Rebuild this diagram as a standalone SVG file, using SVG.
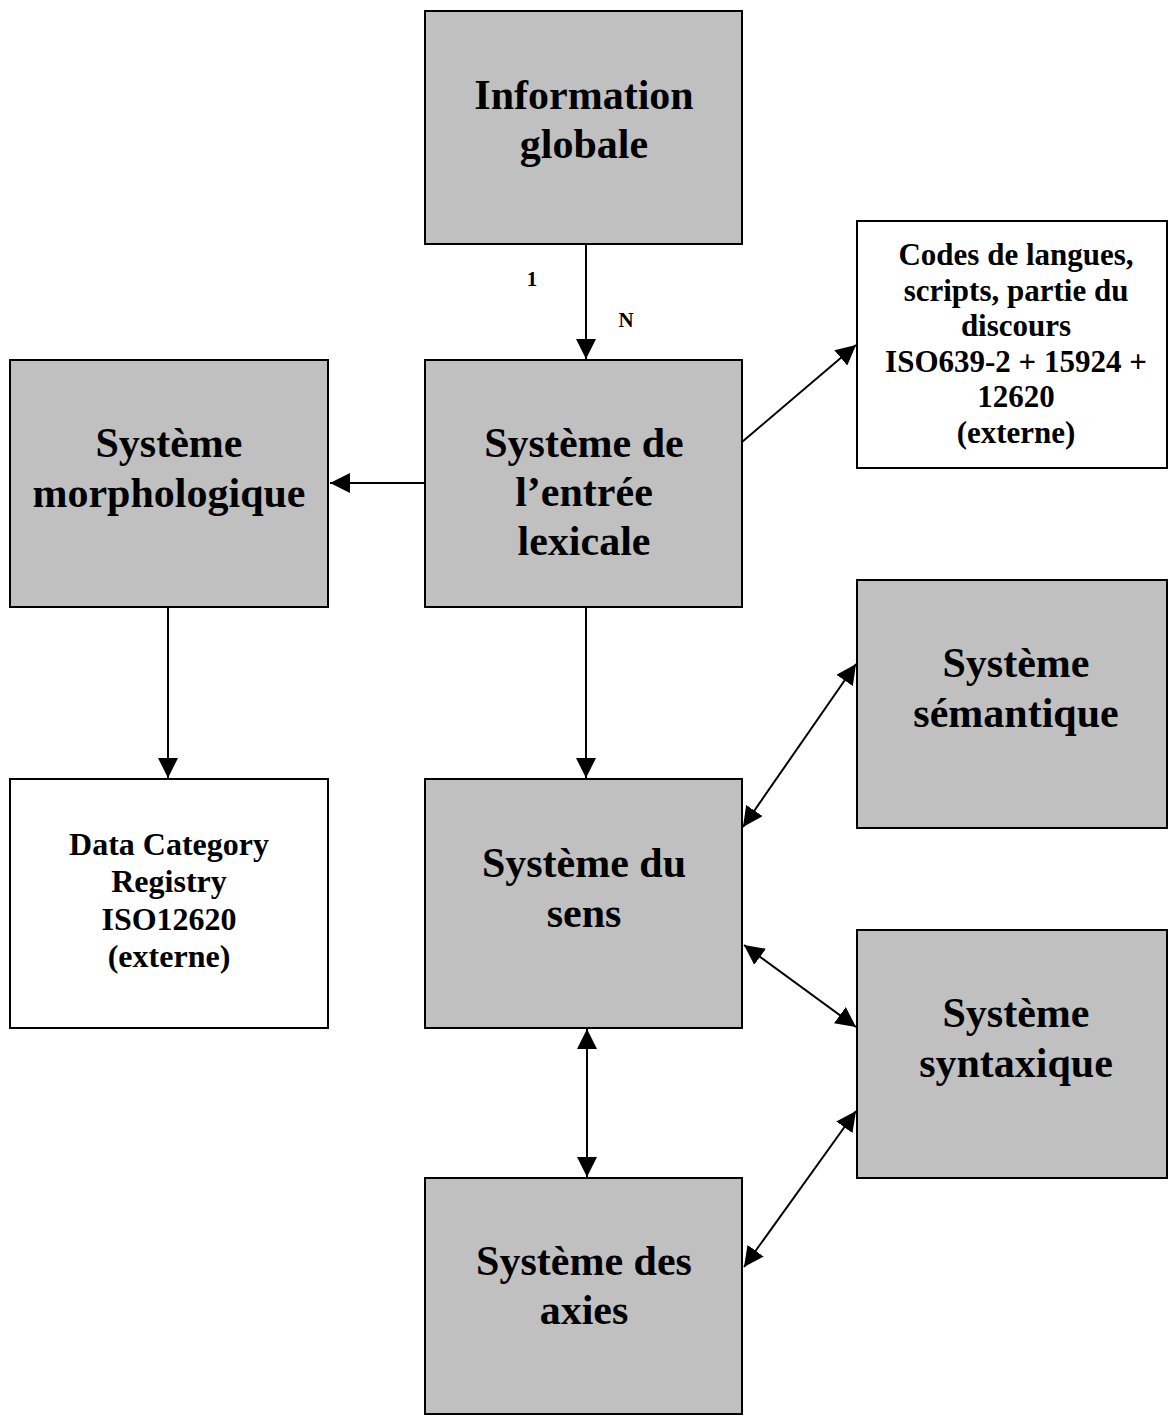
<svg xmlns="http://www.w3.org/2000/svg" width="1168" height="1416" viewBox="0 0 1168 1416">
<style>
.g{fill:#C0C0C0;stroke:#000;stroke-width:2}
.w{fill:#fff;stroke:#000;stroke-width:2}
.t{font-family:"Liberation Serif","Times New Roman",serif;font-weight:bold;font-size:42px;text-anchor:middle;fill:#000}
.s{font-family:"Liberation Serif","Times New Roman",serif;font-weight:bold;font-size:32px;text-anchor:middle;fill:#000}
.s2{font-family:"Liberation Serif","Times New Roman",serif;font-weight:bold;font-size:31px;text-anchor:middle;fill:#000}
.l{font-family:"Liberation Serif","Times New Roman",serif;font-weight:bold;font-size:21px;text-anchor:middle;fill:#000}
.c{fill:none;stroke:#000;stroke-width:2}
</style>
<defs>
<marker id="ah" markerUnits="userSpaceOnUse" markerWidth="20" markerHeight="20" refX="20" refY="10" orient="auto-start-reverse" viewBox="0 0 20 20">
<path d="M0,0 L20,10 L0,20 Z" fill="#000"/>
</marker>
</defs>
<rect width="1168" height="1416" fill="#fff"/>
<g id="connectors">
<line class="c" x1="586" y1="244" x2="586" y2="359" marker-end="url(#ah)"/>
<line class="c" x1="425" y1="483" x2="330" y2="483" marker-end="url(#ah)"/>
<line class="c" x1="742" y1="442" x2="856" y2="345" marker-end="url(#ah)"/>
<line class="c" x1="168" y1="607" x2="168" y2="778" marker-end="url(#ah)"/>
<line class="c" x1="586" y1="607" x2="586" y2="778" marker-end="url(#ah)"/>
<line class="c" x1="743" y1="827" x2="856" y2="664" marker-start="url(#ah)" marker-end="url(#ah)"/>
<line class="c" x1="744" y1="945" x2="856" y2="1027" marker-start="url(#ah)" marker-end="url(#ah)"/>
<line class="c" x1="587" y1="1029" x2="587" y2="1177" marker-start="url(#ah)" marker-end="url(#ah)"/>
<line class="c" x1="744" y1="1267" x2="856" y2="1111" marker-start="url(#ah)" marker-end="url(#ah)"/>
<text class="l" x="532" y="286">1</text>
<text class="l" x="626" y="327">N</text>
</g>
<g id="info">
<rect class="g" x="425" y="11" width="317" height="233"/>
<text class="t" x="584" y="109">Information</text>
<text class="t" x="584" y="158">globale</text>
</g>
<g id="entree">
<rect class="g" x="425" y="360" width="317" height="247"/>
<text class="t" x="584" y="457">Système de</text>
<text class="t" x="584" y="506">l’entrée</text>
<text class="t" x="584" y="555">lexicale</text>
</g>
<g id="codes">
<rect class="w" x="857" y="221" width="310" height="247"/>
<text class="s2" x="1016" y="265">Codes de langues,</text>
<text class="s2" x="1016" y="301">scripts, partie du</text>
<text class="s2" x="1016" y="336">discours</text>
<text class="s2" x="1016" y="372">ISO639-2 + 15924 +</text>
<text class="s2" x="1016" y="407">12620</text>
<text class="s2" x="1016" y="443">(externe)</text>
</g>
<g id="morpho">
<rect class="g" x="10" y="360" width="318" height="247"/>
<text class="t" x="169" y="457">Système</text>
<text class="t" x="169" y="507">morphologique</text>
</g>
<g id="dcr">
<rect class="w" x="10" y="779" width="318" height="249"/>
<text class="s" x="169" y="855">Data Category</text>
<text class="s" x="169" y="892">Registry</text>
<text class="s" x="169" y="930">ISO12620</text>
<text class="s" x="169" y="967">(externe)</text>
</g>
<g id="sens">
<rect class="g" x="425" y="779" width="317" height="249"/>
<text class="t" x="584" y="877">Système du</text>
<text class="t" x="584" y="927">sens</text>
</g>
<g id="semantique">
<rect class="g" x="857" y="580" width="310" height="248"/>
<text class="t" x="1016" y="677">Système</text>
<text class="t" x="1016" y="727">sémantique</text>
</g>
<g id="syntaxique">
<rect class="g" x="857" y="930" width="310" height="248"/>
<text class="t" x="1016" y="1027">Système</text>
<text class="t" x="1016" y="1077">syntaxique</text>
</g>
<g id="axies">
<rect class="g" x="425" y="1178" width="317" height="236"/>
<text class="t" x="584" y="1275">Système des</text>
<text class="t" x="584" y="1324">axies</text>
</g>
</svg>
